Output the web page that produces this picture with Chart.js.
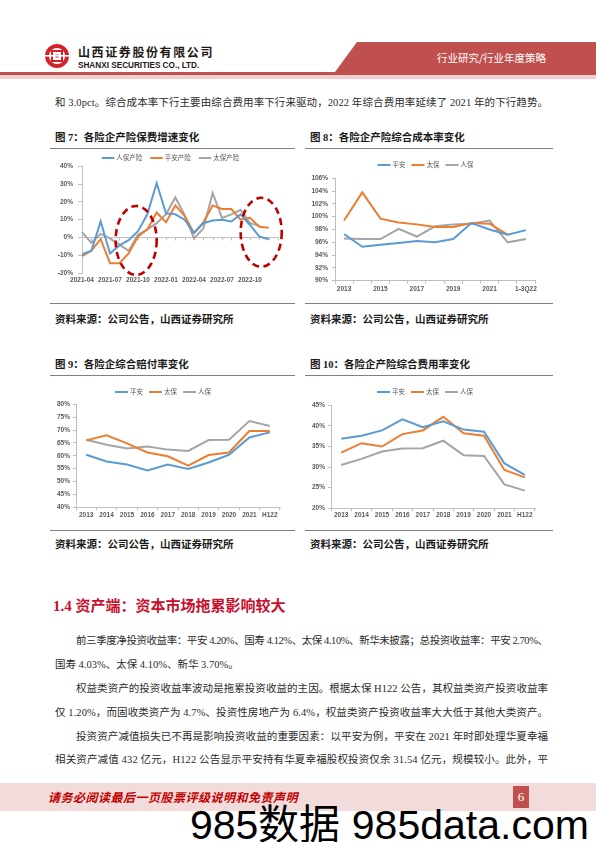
<!DOCTYPE html>
<html lang="zh-CN"><head><meta charset="utf-8"><title>各险企产险指标</title>
<script src="https://cdn.jsdelivr.net/npm/chart.js@4.4.1/dist/chart.umd.min.js"></script>
<style>
html,body{margin:0;padding:0;background:#fff}
#page{position:relative;width:596px;height:842px;overflow:hidden;background:#fff;color:#222;font-family:"Liberation Serif","Noto Sans CJK SC",serif}
.abs{position:absolute;white-space:nowrap;line-height:12px}
.ttl{font-family:"Liberation Serif","Noto Sans CJK SC",sans-serif;font-weight:bold;font-size:10.5px;color:#1a1a1a}
.rule{position:absolute;height:1px;background:#808080}
.jl{position:absolute;display:inline-block;white-space:nowrap;font-size:10.5px;line-height:12px;color:#2b2b2b}
canvas{position:absolute}
</style></head>
<body><div id="page">

<!-- header -->
<svg class="abs" style="left:0;top:0" width="596" height="82">
  <polygon points="357,42 596,42 596,72 335,72" fill="#c0504d"/>
  <rect x="0" y="72" width="596" height="3" fill="#c0504d"/>
  <rect x="0" y="75" width="596" height="4" fill="#efd0cf"/>
  <circle cx="57" cy="56" r="10" fill="none" stroke="#d2232a" stroke-width="4"/>
  <rect x="52" y="51" width="10" height="10" fill="none" stroke="#d2232a" stroke-width="2"/>
  <rect x="55.5" y="54.5" width="3" height="3" fill="#d2232a"/>
  <rect x="45" y="55" width="24" height="1.6" fill="#fff"/>
</svg>
<div class="abs" style="left:78px;top:46px;font-family:'Noto Sans CJK SC',sans-serif;font-weight:bold;font-size:12px;letter-spacing:1.6px;color:#231815">山西证券股份有限公司</div>
<div class="abs" style="left:78px;top:60px;font-family:'Liberation Sans',Arial,sans-serif;font-weight:bold;font-size:8.2px;color:#231815">SHANXI SECURITIES CO., LTD.</div>
<div class="abs" style="left:437px;top:52px;font-family:'Noto Sans CJK SC',sans-serif;font-size:10.5px;color:#fff">行业研究/行业年度策略</div>

<div class="jl" data-w="493" style="left:55px;top:97px">和 3.0pct。综合成本率下行主要由综合费用率下行来驱动，2022 年综合费用率延续了 2021 年的下行趋势。</div>

<!-- figure 7 / 8 -->
<div class="abs ttl" style="left:55px;top:132px">图 7：各险企产险保费增速变化</div>
<div class="abs ttl" style="left:310px;top:132px">图 8：各险企产险综合成本率变化</div>
<div class="rule" style="left:50px;top:148px;width:245px"></div>
<div class="rule" style="left:305px;top:148px;width:248px"></div>
<canvas id="c7" width="245" height="142" style="left:50px;top:150px"></canvas>
<canvas id="c8" width="250" height="145" style="left:305px;top:150px"></canvas>
<div class="rule" style="left:50px;top:303px;width:245px"></div>
<div class="rule" style="left:305px;top:303px;width:248px"></div>
<div class="abs ttl" style="left:55px;top:314px">资料来源：公司公告，山西证券研究所</div>
<div class="abs ttl" style="left:310px;top:314px">资料来源：公司公告，山西证券研究所</div>

<!-- figure 9 / 10 -->
<div class="abs ttl" style="left:55px;top:359px">图 9：各险企综合赔付率变化</div>
<div class="abs ttl" style="left:310px;top:359px">图 10：各险企产险综合费用率变化</div>
<div class="rule" style="left:50px;top:375px;width:245px"></div>
<div class="rule" style="left:305px;top:375px;width:248px"></div>
<canvas id="c9" width="245" height="150" style="left:50px;top:378px"></canvas>
<canvas id="c10" width="250" height="150" style="left:305px;top:378px"></canvas>
<div class="rule" style="left:50px;top:530px;width:245px"></div>
<div class="rule" style="left:305px;top:530px;width:248px"></div>
<div class="abs ttl" style="left:55px;top:539px">资料来源：公司公告，山西证券研究所</div>
<div class="abs ttl" style="left:310px;top:539px">资料来源：公司公告，山西证券研究所</div>

<!-- section -->
<div class="abs" style="left:53px;top:598px;line-height:16px;font-size:15px;font-weight:bold;color:#c8102e">1.4 资产端：资本市场拖累影响较大</div>
<div class="jl" data-w="472" style="left:76px;top:635px">前三季度净投资收益率：平安 4.20%、国寿 4.12%、太保 4.10%、新华未披露；总投资收益率：平安 2.70%、</div>
<div class="jl" style="left:55px;top:659px">国寿 4.03%、太保 4.10%、新华 3.70%。</div>
<div class="jl" data-w="472" style="left:76px;top:683px">权益类资产的投资收益率波动是拖累投资收益的主因。根据太保 H122 公告，其权益类资产投资收益率</div>
<div class="jl" data-w="493" style="left:55px;top:707px">仅 1.20%，而固收类资产为 4.7%、投资性房地产为 6.4%，权益类资产投资收益率大大低于其他大类资产。</div>
<div class="jl" data-w="472" style="left:76px;top:731px">投资资产减值损失已不再是影响投资收益的重要因素：以平安为例，平安在 2021 年时即处理华夏幸福</div>
<div class="jl" data-w="493" style="left:55px;top:754px">相关资产减值 432 亿元，H122 公告显示平安持有华夏幸福股权投资仅余 31.54 亿元，规模较小。此外，平</div>

<!-- footer -->
<div style="position:absolute;left:0;top:783px;width:596px;height:28px;background:#f2dcdb"></div>
<div class="abs" style="left:48px;top:790px;line-height:14px;font-family:'Noto Sans CJK SC',sans-serif;font-weight:bold;font-style:italic;font-size:12px;letter-spacing:0.5px;color:#c00000">请务必阅读最后一页股票评级说明和免责声明</div>
<div class="abs" style="left:513px;top:786px;width:16px;height:22px;line-height:22px;background:#c0504d;color:#fff;text-align:center;font-size:13px">6</div>
<div class="abs" style="left:190px;top:805px;line-height:41px;font-family:'Liberation Sans',Arial,sans-serif;font-size:41px;color:#000">985数据 985data.com</div>

</div>
<script>
// ---------- data ----------
const months7 = ['2021-04','2021-05','2021-06','2021-07','2021-08','2021-09','2021-10','2021-11','2021-12','2022-01','2022-02','2022-03','2022-04','2022-05','2022-06','2022-07','2022-08','2022-09','2022-10','2022-11','2022-12','2023-01'];
const tickLabels7 = ['2021-04','2021-07','2021-10','2022-01','2022-04','2022-07','2022-10'];
const renbaoPremGrowth = [-9.5,-7.5,9,-9,-4.5,-1.5,3.5,13,30.5,13.5,13,10,2.5,8,9.5,10,9,13,7,0.5,-1];
const pinganPremGrowth = [-10.5,-7.5,-1,-14.5,-14.5,-9,0.5,4.5,14,8.5,18,12,2.5,8.5,18,16,16,10,11,6,5.5];
const taibaoPremGrowth = [3,-3,2,-0.5,-4,-7.5,1.5,4.5,8,13,22.5,12.5,-0.5,5,25,11,13,15.5,8,6.5,null];

const years8 = ['2013','2014','2015','2016','2017','2018','2019','2020','2021','H122','1-3Q22'];
const tickLabels8 = ['2013','2015','2017','2019','2021','1-3Q22'];
const pinganCombined = [97.3,95.3,95.6,95.9,96.2,96.0,96.5,99.0,98.0,97.2,97.9];
const taibaoCombined = [99.4,103.8,99.7,99.1,98.8,98.4,98.4,99.0,98.9,97.2,null];
const renbaoCombined = [96.6,96.5,96.5,98.1,96.9,98.5,98.8,98.9,99.4,96.0,96.5];

const years9 = ['2013','2014','2015','2016','2017','2018','2019','2020','2021','H122'];
const pinganLoss = [60.4,57.8,56.6,54.3,56.6,54.9,57.4,60.4,67.1,69.1];
const taibaoLoss = [66.0,68.0,64.8,61.3,59.8,56.2,60.3,61.3,69.6,69.6];
const renbaoLoss = [66.2,64.3,62.8,63.6,62.4,61.9,66.1,66.2,73.5,71.6];

const years10 = ['2013','2014','2015','2016','2017','2018','2019','2020','2021','H122'];
const pinganExpense = [36.9,37.6,38.9,41.6,39.7,41.1,39.1,38.6,30.9,28.1];
const taibaoExpense = [33.5,35.8,35.0,38.0,38.9,42.2,38.2,37.6,29.3,27.5];
const renbaoExpense = [30.5,32.0,33.8,34.5,34.6,36.4,32.9,32.7,25.8,24.3];

// highlight ellipses on fig 7 (category index / percent units)
const highlights7 = [{cx:5.8,cy:-1.7,rx:2.2,ry:19.4},{cx:19.2,cy:2.9,rx:2.2,ry:19.4}];

// ---------- styles ----------
const C_BLUE='#5b9bd5', C_ORANGE='#ed7d31', C_GRAY='#a5a5a5';
const AX_FONT={family:'"Liberation Sans", Arial, sans-serif',size:6.5,weight:'bold'};
const AX_COLOR='#595959', AXL='#bfbfbf';

// ---------- plugins ----------
const lineLegend={id:'lineLegend',afterDraw(chart,args,o){
  if(!o||o.cx===undefined)return;
  const ctx=chart.ctx;ctx.save();
  ctx.font=o.size+'px "Noto Sans CJK SC", sans-serif';
  const items=chart.data.datasets.map(d=>({t:d.label,c:d.borderColor,w:ctx.measureText(d.label).width}));
  let total=items.reduce((s,it)=>s+o.line+o.gap1+it.w,0)+o.gap2*(items.length-1);
  let x=o.cx-total/2;
  ctx.textBaseline='middle';
  items.forEach(it=>{
    ctx.strokeStyle=it.c;ctx.lineWidth=2;ctx.beginPath();ctx.moveTo(x,o.cy);ctx.lineTo(x+o.line,o.cy);ctx.stroke();
    x+=o.line+o.gap1;ctx.fillStyle=AX_COLOR;ctx.fillText(it.t,x,o.cy);x+=it.w+o.gap2;
  });
  ctx.restore();
}};
const zeroTicks={id:'zeroTicks',beforeDatasetsDraw(chart,args,o){
  if(!o||!o.on)return;
  const x=chart.scales.x,y=chart.scales.y,ctx=chart.ctx,y0=y.getPixelForValue(0);
  ctx.save();ctx.strokeStyle=AXL;ctx.lineWidth=1;ctx.beginPath();
  for(let i=0;i<chart.data.labels.length;i++){const px=Math.round(x.getPixelForValue(i))+0.5;ctx.moveTo(px,y0);ctx.lineTo(px,y0+3);}
  ctx.stroke();ctx.restore();
}};
const ellipses={id:'ellipses',afterDatasetsDraw(chart,args,o){
  if(!o||!o.items)return;
  const x=chart.scales.x,y=chart.scales.y,ctx=chart.ctx;
  ctx.save();ctx.strokeStyle='#c00000';ctx.lineWidth=2.6;ctx.setLineDash([7,4.5]);
  for(const e of o.items){
    const px=x.getPixelForValue(e.cx),py=y.getPixelForValue(e.cy);
    const rx=Math.abs(x.getPixelForValue(e.cx+e.rx)-px),ry=Math.abs(y.getPixelForValue(e.cy+e.ry)-py);
    ctx.beginPath();ctx.ellipse(px,py,rx,ry,0,0,Math.PI*2);ctx.stroke();
  }
  ctx.restore();
}};

function ds(label,data,color){return {label,data,borderColor:color,backgroundColor:color,borderWidth:2,pointRadius:0,pointHoverRadius:0,tension:0,fill:false};}

function build(id,labels,datasets,o){
  return new Chart(document.getElementById(id),{
    type:'line',data:{labels,datasets},
    options:{responsive:false,animation:false,devicePixelRatio:1,
      layout:{padding:o.pad},
      plugins:{legend:{display:false},tooltip:{enabled:false},lineLegend:o.legend,zeroTicks:{on:!!o.zero},ellipses:o.ell||{}},
      scales:{x:o.x,y:o.y}},
    plugins:[lineLegend,zeroTicks,ellipses]
  });
}

function yAxis(min,max,step,width,tl,pad,zeroOnly){
  return {min,max,
    ticks:{stepSize:step,padding:pad,font:AX_FONT,color:AX_COLOR,callback:v=>v+'%'},
    grid:zeroOnly?{color:c=>(c.tick&&c.tick.value===0)?AXL:'rgba(0,0,0,0)',tickColor:AXL,tickLength:tl,drawTicks:true}
                 :{drawOnChartArea:false,drawTicks:true,tickLength:tl,color:AXL,tickColor:AXL},
    border:{display:true,color:AXL},
    afterFit:s=>{s.width=width;}};
}
function xAxisBetween(height,pad,shown){
  return {offset:true,
    grid:{offset:true,drawOnChartArea:false,drawTicks:true,tickLength:3,color:AXL,tickColor:AXL},
    border:{display:true,color:AXL},
    ticks:{autoSkip:false,maxRotation:0,minRotation:0,padding:pad,font:AX_FONT,color:AX_COLOR,
      callback:function(v){const l=this.getLabelForValue(v);return (!shown||shown.includes(l))?l:'';}},
    afterFit:s=>{s.height=height;}};
}

// Fig 7
build('c7',months7,[ds('人保产险',renbaoPremGrowth,C_BLUE),ds('平安产险',pinganPremGrowth,C_ORANGE),ds('太保产险',taibaoPremGrowth,C_GRAY)],{
  pad:{left:0,right:17,top:16.3,bottom:0},
  legend:{cx:120.5,cy:8,size:6.5,line:12.5,gap1:2,gap2:8},
  zero:true, ell:{items:highlights7},
  x:{offset:false,grid:{display:false,drawTicks:false},border:{display:false},
     ticks:{autoSkip:false,maxRotation:0,minRotation:0,padding:3,font:AX_FONT,color:AX_COLOR,
       callback:function(v){const l=this.getLabelForValue(v);return tickLabels7.includes(l)?l:'';}},
     afterFit:s=>{s.height=19;}},
  y:yAxis(-20,40,10,32,4,5,true)
});
// Fig 8
build('c8',years8,[ds('平安',pinganCombined,C_BLUE),ds('太保',taibaoCombined,C_ORANGE),ds('人保',renbaoCombined,C_GRAY)],{
  pad:{left:0,right:20,top:28.3,bottom:0},
  legend:{cx:120.5,cy:15,size:6.5,line:13,gap1:2,gap2:6},
  x:xAxisBetween(14.3,1.4,tickLabels8),
  y:yAxis(90,106,2,30,3,4,false)
});
// Fig 9
build('c9',years9,[ds('平安',pinganLoss,C_BLUE),ds('太保',taibaoLoss,C_ORANGE),ds('人保',renbaoLoss,C_GRAY)],{
  pad:{left:0,right:15,top:26.3,bottom:0},
  legend:{cx:113,cy:14,size:6.5,line:13,gap1:2,gap2:6},
  x:xAxisBetween(20.7,0.8,null),
  y:yAxis(40,80,5,26,3,3,false)
});
// Fig 10
build('c10',years10,[ds('平安',pinganExpense,C_BLUE),ds('太保',taibaoExpense,C_ORANGE),ds('人保',renbaoExpense,C_GRAY)],{
  pad:{left:0,right:20,top:27.3,bottom:0},
  legend:{cx:120,cy:14,size:6.5,line:13,gap1:2,gap2:6},
  x:xAxisBetween(19.7,0.5,null),
  y:yAxis(20,45,5,26,3,3,false)
});

// justify body text lines
function justify(){
  document.querySelectorAll('.jl[data-w]').forEach(el=>{
    el.style.letterSpacing='0px';
    const w=el.getBoundingClientRect().width;
    const n=[...el.textContent].length;
    const t=parseFloat(el.dataset.w);
    el.style.letterSpacing=((t-w)/(n-1))+'px';
  });
}
justify();
if(document.fonts&&document.fonts.ready)document.fonts.ready.then(justify);
</script>
</body></html>
